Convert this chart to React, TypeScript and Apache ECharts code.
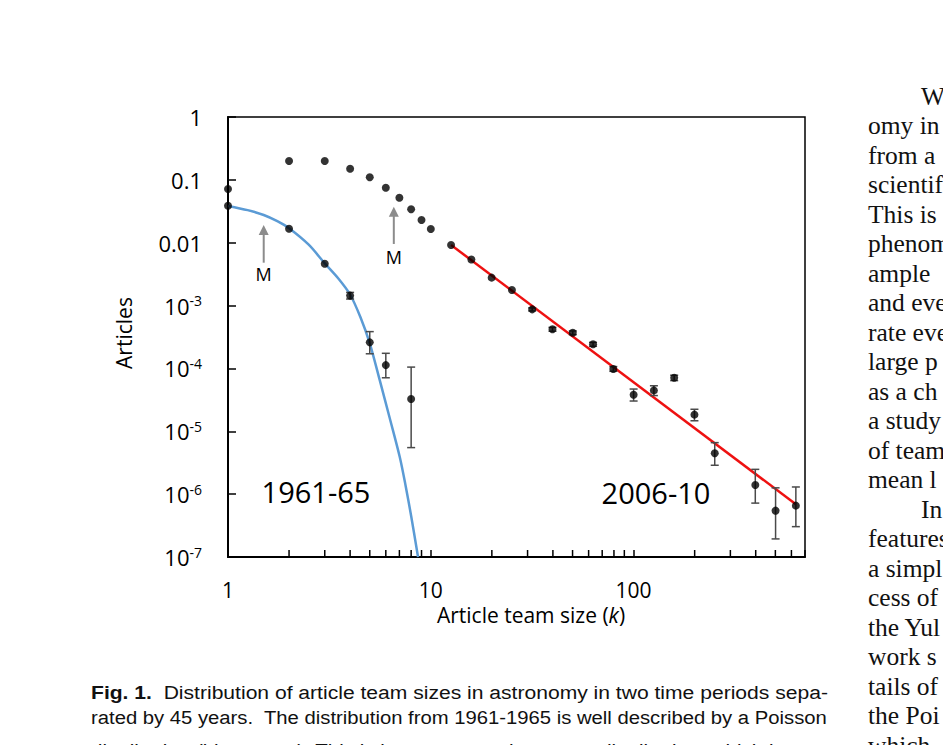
import React, { useEffect, useRef } from 'react';
import * as echarts from 'echarts';

// ---- data ----
const teamSizes1961 = [1, 2, 3, 4, 5, 6, 8];
const articles1961 = [0.0388, 0.0167, 0.00464, 0.00144, 2.6e-4, 1.13e-4, 3.27e-5];
const errK1961 = [4, 5, 6, 8];
const errLow1961 = [0.00127, 1.71e-4, 7.1e-5, 5.5e-6];
const errHigh1961 = [0.00162, 3.85e-4, 1.74e-4, 1.05e-4];

const teamSizes2006 = [1, 2, 3, 4, 5, 6, 7, 8, 9, 10, 12.59, 15.85, 19.95, 25.12, 31.62, 39.81, 50.12, 63.1, 79.43, 100, 125.9, 158.5, 199.5, 251.2, 398.1, 501.2, 631];
const articles2006 = [0.0716, 0.2, 0.2, 0.15, 0.11, 0.075, 0.052, 0.034, 0.023, 0.0165, 0.0092, 0.0054, 0.00278, 0.00177, 8.7e-4, 4.19e-4, 3.7e-4, 2.42e-4, 9.8e-5, 3.82e-5, 4.47e-5, 7.1e-5, 1.84e-5, 4.46e-6, 1.4e-6, 5.46e-7, 6.56e-7];
const errK2006 = [31.62, 39.81, 50.12, 63.1, 79.43, 100, 125.9, 158.5, 199.5, 251.2, 398.1, 501.2, 631];
const errLow2006 = [8.2e-4, 3.9e-4, 3.45e-4, 2.25e-4, 9.0e-5, 3.03e-5, 3.7e-5, 6.4e-5, 1.47e-5, 2.88e-6, 7.2e-7, 1.94e-7, 3.04e-7];
const errHigh2006 = [9.2e-4, 4.5e-4, 3.95e-4, 2.6e-4, 1.07e-4, 4.7e-5, 5.3e-5, 7.8e-5, 2.24e-5, 6.6e-6, 2.48e-6, 1.26e-6, 1.3e-6];

// Poisson fit curve (blue)
const poissonK = [1, 1.25, 1.5, 1.75, 2, 2.5, 3, 3.5, 4, 4.5, 5, 5.6, 6.28, 7.03, 7.5, 8, 8.65];
const poissonY = [0.0385, 0.033, 0.0276, 0.022, 0.017, 0.0093, 0.0047, 0.0027, 0.0015, 6.5e-4, 2.5e-4, 6.5e-5, 1.6e-5, 3.9e-6, 1.4e-6, 4.5e-7, 1e-7];

// Power-law fit (red)
const fitK = [12.59, 631];
const fitY = [0.0092, 6.9e-7];

// Minor ticks on the x axis
const xMinorTicks = [2, 3, 4, 5, 6, 7, 8, 9, 20, 30, 40, 50, 60, 70, 80, 90, 200, 300, 400, 500, 600];

// Mean markers (k, arrow tip, arrow tail, label)
const meanK = [1.5, 6.57];
const meanTip = [0.0191, 0.0374];
const meanTail = [0.00481, 0.00955];
const meanLabelY = [0.00318, 0.006];

const periodLabels = ['1961-65', '2006-10'];

const captionLines = [
  '{b|Fig. 1.}  Distribution of article team sizes in astronomy in two time periods sepa-',
  'rated by 45 years.  The distribution from 1961-1965 is well described by a Poisson',
  'distribution (blue curve). This is in contrast to the recent distribution, which is',
];
const captionStretch = [1.11, 1.067, 1.08];

const columnLines = [
  'W', 'omy in', 'from a', 'scientif', 'This is', 'phenom', 'ample', 'and eve', 'rate eve',
  'large p', 'as a ch', 'a study', 'of team', 'mean l', 'In', 'features', 'a simpl', 'cess of',
  'the Yul', 'work s', 'tails of', 'the Poi', 'which',
];
const columnIndented = [0, 14];

const FONT = '"Open Sans", sans-serif';

export default function App() {
  const ref = useRef<HTMLDivElement>(null);

  useEffect(() => {
    if (!ref.current) return;
    const chart = echarts.init(ref.current, undefined, { renderer: 'svg' });

    const errorBarRender = (params: any, api: any) => {
      const x = api.value(0);
      const p1 = api.coord([x, api.value(1)]);
      const p2 = api.coord([x, api.value(2)]);
      const cap = 4;
      const st = { stroke: '#4a4a4a', lineWidth: 1.5 };
      return {
        type: 'group',
        children: [
          { type: 'line', shape: { x1: p1[0], y1: p1[1], x2: p2[0], y2: p2[1] }, style: st },
          { type: 'line', shape: { x1: p1[0] - cap, y1: p1[1], x2: p1[0] + cap, y2: p1[1] }, style: st },
          { type: 'line', shape: { x1: p2[0] - cap, y1: p2[1], x2: p2[0] + cap, y2: p2[1] }, style: st },
        ],
      };
    };

    const graphics: any[] = [];
    // period labels
    graphics.push({ type: 'text', x: 316, y: 491, style: { text: periodLabels[0], fontSize: 29, fontFamily: FONT, fill: '#000', textAlign: 'center', textVerticalAlign: 'middle' } });
    graphics.push({ type: 'text', x: 656, y: 492, style: { text: periodLabels[1], fontSize: 29, fontFamily: FONT, fill: '#000', textAlign: 'center', textVerticalAlign: 'middle' } });
    // axis titles
    graphics.push({ type: 'text', x: 124, y: 333, rotation: Math.PI / 2, style: { text: 'Articles', fontSize: 21, fontFamily: FONT, fill: '#000', textAlign: 'center', textVerticalAlign: 'middle' } });
    graphics.push({
      type: 'text', x: 531, y: 615,
      style: {
        text: 'Article team size ({i|k})', fontSize: 21, fontFamily: FONT, fill: '#000', textAlign: 'center', textVerticalAlign: 'middle',
        rich: { i: { fontStyle: 'italic', fontSize: 21, fontFamily: FONT, fill: '#000' } },
      },
    });
    // caption
    captionLines.forEach((t, i) => {
      graphics.push({
        type: 'text', x: 91, y: 692 + 25 * i + (i === 2 ? 8 : 0), scaleX: captionStretch[i],
        style: {
          text: t, fontSize: 19, fontFamily: '"Liberation Sans", Arial, sans-serif', fill: '#111', textVerticalAlign: 'middle',
          rich: { b: { fontWeight: 'bold', fontSize: 19, fontFamily: '"Liberation Sans", Arial, sans-serif', fill: '#111' } },
        },
      });
    });
    // right column text
    columnLines.forEach((t, i) => {
      graphics.push({
        type: 'text', x: columnIndented.includes(i) ? 921 : 868, y: 96 + 29.5 * i,
        style: { text: t, fontSize: 25.5, fontFamily: '"Liberation Serif", "Times New Roman", serif', fill: '#111', textVerticalAlign: 'middle' },
      });
    });

    const option: any = {
      animation: false,
      backgroundColor: '#fff',
      grid: { left: 228, right: 138, top: 117, bottom: 188, show: true, borderColor: '#000', borderWidth: 1.5, backgroundColor: 'transparent' },
      xAxis: {
        type: 'log', logBase: 10, min: 1, max: 700,
        axisLine: { lineStyle: { color: '#000', width: 2 } },
        axisTick: { inside: true, length: 7, lineStyle: { color: '#000', width: 1.5 } },
        splitLine: { show: false },
        axisLabel: {
          fontSize: 21, fontFamily: FONT, color: '#000', margin: 24, lineHeight: 18,
          formatter: (v: number) => {
            const lg = Math.log10(v);
            if (Math.abs(lg - Math.round(lg)) > 1e-6) return '';
            return String(Math.round(Math.pow(10, Math.round(lg))));
          },
        },
      },
      yAxis: {
        type: 'log', logBase: 10, min: 1e-7, max: 1,
        axisLine: { lineStyle: { color: '#000', width: 2 } },
        axisTick: { inside: true, length: 8, lineStyle: { color: '#000', width: 1.5 } },
        splitLine: { show: false },
        axisLabel: {
          fontSize: 22, fontFamily: FONT, color: '#000', margin: 26,
          formatter: (v: number) => {
            const e = Math.round(Math.log10(v));
            if (e === 0) return '1';
            if (e === -1) return '0.1';
            if (e === -2) return '0.01';
            return '10{sup|' + e + '}';
          },
          rich: { sup: { fontSize: 14, fontFamily: FONT, color: '#000', padding: [0, 0, 10, 0] } },
        },
      },
      graphic: graphics,
      series: [
        {
          type: 'line', name: 'Poisson', data: poissonK.map((k, i) => [k, poissonY[i]]),
          showSymbol: false, smooth: 0.3, lineStyle: { color: '#5b9bd5', width: 2.5 }, z: 2,
        },
        {
          type: 'line', name: 'Power law', data: fitK.map((k, i) => [k, fitY[i]]),
          showSymbol: false, lineStyle: { color: '#ee1111', width: 2.5 }, z: 2,
        },
        {
          type: 'custom', name: 'err1961', renderItem: errorBarRender, z: 3,
          encode: { x: 0, y: [1, 2] },
          data: errK1961.map((k, i) => [k, errLow1961[i], errHigh1961[i]]),
        },
        {
          type: 'custom', name: 'err2006', renderItem: errorBarRender, z: 3,
          encode: { x: 0, y: [1, 2] },
          data: errK2006.map((k, i) => [k, errLow2006[i], errHigh2006[i]]),
        },
        {
          type: 'scatter', name: '1961-65', data: teamSizes1961.map((k, i) => [k, articles1961[i]]),
          symbol: 'circle', symbolSize: 8, itemStyle: { color: '#000' }, z: 4,
        },
        {
          type: 'scatter', name: '2006-10', data: teamSizes2006.map((k, i) => [k, articles2006[i]]),
          symbol: 'circle', symbolSize: 8, itemStyle: { color: '#000' }, z: 4,
        },
        {
          type: 'custom', name: 'minorTicks', z: 5, silent: true,
          data: xMinorTicks.map((k) => [k, 1e-7]),
          renderItem: (params: any, api: any) => {
            const p = api.coord([api.value(0), api.value(1)]);
            return { type: 'line', shape: { x1: p[0], y1: p[1], x2: p[0], y2: p[1] - 7 }, style: { stroke: '#000', lineWidth: 1.5 } };
          },
        },
        {
          type: 'custom', name: 'means', z: 5, silent: true,
          data: meanK.map((k, i) => [k, meanTip[i], meanTail[i], meanLabelY[i]]),
          renderItem: (params: any, api: any) => {
            const k = api.value(0);
            const tip = api.coord([k, api.value(1)]);
            const tail = api.coord([k, api.value(2)]);
            const lab = api.coord([k, api.value(3)]);
            const col = '#8c8c8c';
            return {
              type: 'group',
              children: [
                { type: 'line', shape: { x1: tail[0], y1: tail[1], x2: tip[0], y2: tip[1] + 8 }, style: { stroke: col, lineWidth: 2 } },
                { type: 'polygon', shape: { points: [[tip[0], tip[1]], [tip[0] - 5, tip[1] + 10], [tip[0] + 5, tip[1] + 10]] }, style: { fill: col } },
                { type: 'text', x: lab[0], y: lab[1], style: { text: 'M', fontSize: 18, fontFamily: FONT, fill: '#000', textAlign: 'center', textVerticalAlign: 'middle' } },
              ],
            };
          },
        },
      ],
    };

    chart.setOption(option);
    return () => chart.dispose();
  }, []);

  return <div ref={ref} style={{ position: 'fixed', left: 0, top: 0, width: 943, height: 745, background: '#fff' }} />;
}
